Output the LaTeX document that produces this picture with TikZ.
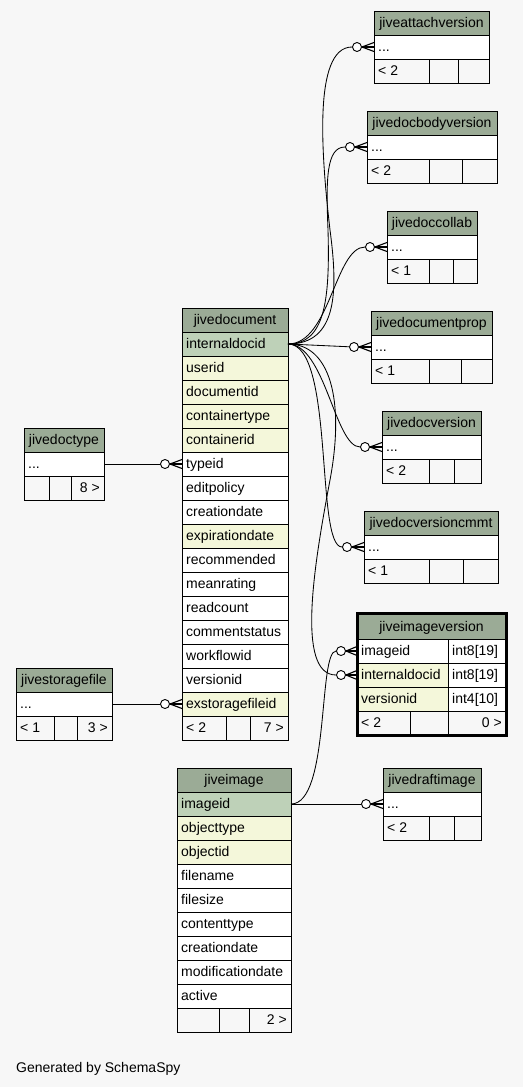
\documentclass[tikz,border=0pt]{standalone}
\usepackage{fontspec}
\setmainfont{Liberation Sans}
\usetikzlibrary{calc}
\definecolor{bgc}{HTML}{F7F7F7}
\definecolor{hdrc}{HTML}{9BAB96}
\definecolor{pkc}{HTML}{BED1B8}
\definecolor{idxc}{HTML}{F4F7DA}
\newcommand{\tfont}{\fontsize{14}{16}\selectfont}
\tikzset{
  cellbox/.style={draw=black, line width=0.9pt, anchor=north west, inner sep=0pt, outer sep=0pt, minimum height=24},
  lbl/.style={inner sep=0pt, font=\tfont, text=black},
  conn/.style={draw=black, line width=0.85pt},
  crowline/.style={draw=black, line width=1.1pt},
  ring/.style={circle, draw=black, fill=white, line width=0.9pt, minimum size=9, inner sep=0pt},
}
% left-aligned cell
\newcommand{\cL}[6]{\node[cellbox,fill=#5,minimum width=#4] (#1) at (#2,#3) {};\node[lbl,anchor=base west] (#1-t) at (#2+4,#3+16.8) {#6};}
% right-aligned cell
\newcommand{\cR}[6]{\node[cellbox,fill=#5,minimum width=#4] (#1) at (#2,#3) {};\node[lbl,anchor=base east] (#1-t) at (#2+#4-4,#3+16.8) {#6};}
% centred cell
\newcommand{\cC}[6]{\node[cellbox,fill=#5,minimum width=#4] (#1) at (#2,#3) {};\node[lbl,anchor=base] (#1-t) at (#2+#4/2,#3+16.8) {#6};}
% empty cell
\newcommand{\cE}[5]{\node[cellbox,fill=#5,minimum width=#4] (#1) at (#2,#3) {};}
% small table: name, x, y, width, title, div1 x, div2 x, footer-left text
\newcommand{\smalltab}[8]{%
  \cC{#1-h}{#2}{#3}{#4}{hdrc}{#5}
  \cL{#1-row}{#2}{#3+24}{#4}{white}{...}
  \cL{#1-f1}{#2}{#3+48}{#6-#2}{bgc}{#8}
  \cE{#1-f2}{#6}{#3+48}{#7-#6}{bgc}
  \cE{#1-f3}{#7}{#3+48}{#2+#4-#7}{bgc}
}
\newcommand{\crowat}[2]{%
  \draw[crowline] (#1.east) -- ($(#2.west)+(0,-4.5)$);
  \draw[crowline] (#1.east) -- (#2.west);
  \draw[crowline] (#1.east) -- ($(#2.west)+(0,4.5)$);
}
\begin{document}
\begin{tikzpicture}[x=1pt,y=-1pt]
\useasboundingbox (0,0) rectangle (523,1087);
\fill[bgc] (0,0) rectangle (523,1087);

% ---------------- jivedocument
\cC{doc-h}{182}{308}{106}{hdrc}{jivedocument}
\cL{doc-internaldocid}{182}{332}{106}{pkc}{internaldocid}
\cL{doc-userid}{182}{356}{106}{idxc}{userid}
\cL{doc-documentid}{182}{380}{106}{idxc}{documentid}
\cL{doc-containertype}{182}{404}{106}{idxc}{containertype}
\cL{doc-containerid}{182}{428}{106}{idxc}{containerid}
\cL{doc-typeid}{182}{452}{106}{white}{typeid}
\cL{doc-editpolicy}{182}{476}{106}{white}{editpolicy}
\cL{doc-creationdate}{182}{500}{106}{white}{creationdate}
\cL{doc-expirationdate}{182}{524}{106}{idxc}{expirationdate}
\cL{doc-recommended}{182}{548}{106}{white}{recommended}
\cL{doc-meanrating}{182}{572}{106}{white}{meanrating}
\cL{doc-readcount}{182}{596}{106}{white}{readcount}
\cL{doc-commentstatus}{182}{620}{106}{white}{commentstatus}
\cL{doc-workflowid}{182}{644}{106}{white}{workflowid}
\cL{doc-versionid}{182}{668}{106}{white}{versionid}
\cL{doc-exstoragefileid}{182}{692}{106}{idxc}{exstoragefileid}
\cL{doc-f1}{182}{716}{44}{bgc}{< 2}
\cE{doc-f2}{226}{716}{24}{bgc}
\cR{doc-f3}{250}{716}{38}{bgc}{7 >}

% ---------------- jiveimage
\cC{img-h}{177}{768}{114}{hdrc}{jiveimage}
\cL{img-imageid}{177}{792}{114}{pkc}{imageid}
\cL{img-objecttype}{177}{816}{114}{idxc}{objecttype}
\cL{img-objectid}{177}{840}{114}{idxc}{objectid}
\cL{img-filename}{177}{864}{114}{white}{filename}
\cL{img-filesize}{177}{888}{114}{white}{filesize}
\cL{img-contenttype}{177}{912}{114}{white}{contenttype}
\cL{img-creationdate}{177}{936}{114}{white}{creationdate}
\cL{img-modificationdate}{177}{960}{114}{white}{modificationdate}
\cL{img-active}{177}{984}{114}{white}{active}
\cE{img-f1}{177}{1008}{42}{bgc}
\cE{img-f2}{219}{1008}{30}{bgc}
\cR{img-f3}{249}{1008}{42}{bgc}{2 >}

% ---------------- jivedoctype
\cC{doctype-h}{24}{428}{80}{hdrc}{jivedoctype}
\cL{doctype-row}{24}{452}{80}{white}{...}
\cE{doctype-f1}{24}{476}{25}{bgc}
\cE{doctype-f2}{49}{476}{22}{bgc}
\cR{doctype-f3}{71}{476}{33}{bgc}{8 >}

% ---------------- jivestoragefile
\cC{storage-h}{16}{668}{96}{hdrc}{jivestoragefile}
\cL{storage-row}{16}{692}{96}{white}{...}
\cL{storage-f1}{16}{716}{38}{bgc}{< 1}
\cE{storage-f2}{54}{716}{23}{bgc}
\cR{storage-f3}{77}{716}{35}{bgc}{3 >}

% ---------------- right-hand tables
\smalltab{attach}{374}{11}{115}{jiveattachversion}{429}{458}{< 2}
\smalltab{bodyver}{367}{111}{130}{jivedocbodyversion}{429}{462}{< 2}
\smalltab{collab}{387}{211}{90}{jivedoccollab}{429}{453}{< 1}
\smalltab{docprop}{371}{311}{121}{jivedocumentprop}{429}{461}{< 1}
\smalltab{docver}{382}{411}{99}{jivedocversion}{429}{454}{< 2}
\smalltab{cmmt}{364}{511}{134}{jivedocversioncmmt}{429}{463}{< 1}
\smalltab{draft}{383}{768}{98}{jivedraftimage}{429}{454}{< 2}

% ---------------- jiveimageversion
\node[cellbox,fill=hdrc,minimum width=149,minimum height=26] (iv-h) at (357,613) {};
\node[lbl,anchor=base] (iv-h-t) at (431.5,631) {jiveimageversion};
\cL{iv-imageid}{357}{639}{91}{white}{imageid}
\cL{iv-imageid-type}{448}{639}{58}{white}{int8[19]}
\cL{iv-internaldocid}{357}{663}{91}{idxc}{internaldocid}
\cL{iv-internaldocid-type}{448}{663}{58}{white}{int8[19]}
\cL{iv-versionid}{357}{687}{91}{idxc}{versionid}
\cL{iv-versionid-type}{448}{687}{58}{white}{int4[10]}
\cL{iv-f1}{357}{711}{53}{bgc}{< 2}
\cE{iv-f2}{410}{711}{38}{bgc}
\cR{iv-f3}{448}{711}{58}{bgc}{0 >}
\draw[line width=3pt] (iv-h.north west) rectangle (iv-f3.south east);

% ---------------- rings
\node[ring] (o-attach) at ($(attach-row.west)+(-17,0)$) {};
\node[ring] (o-bodyver) at ($(bodyver-row.west)+(-17,0)$) {};
\node[ring] (o-collab) at ($(collab-row.west)+(-17,0)$) {};
\node[ring] (o-docprop) at ($(docprop-row.west)+(-17,0)$) {};
\node[ring] (o-docver) at ($(docver-row.west)+(-17,0)$) {};
\node[ring] (o-cmmt) at ($(cmmt-row.west)+(-17,0)$) {};
\node[ring] (o-draft) at ($(draft-row.west)+(-17,0)$) {};
\node[ring] (o-ivimg) at ($(iv-imageid.west)+(-16,0)$) {};
\node[ring] (o-ivdoc) at ($(iv-internaldocid.west)+(-16,0)$) {};
\node[ring] (o-doctype) at ($(doc-typeid.west)+(-17,0)$) {};
\node[ring] (o-storage) at ($(doc-exstoragefileid.west)+(-17,0)$) {};

% ---------------- connectors
\draw[conn] (doc-internaldocid.east) .. controls (338,344) and (338,290) .. (330,230) .. controls (322,160) and (312,47) .. (o-attach);
\draw[conn] (doc-internaldocid.east) .. controls (325,344) and (330,300) .. (328,230) .. controls (326,180) and (326,147) .. (o-bodyver);
\draw[conn] (doc-internaldocid.east) .. controls (330,344) and (335,247) .. (o-collab);
\draw[conn] (doc-internaldocid.east) -- (o-docprop);
\draw[conn] (doc-internaldocid.east) .. controls (325,344) and (335,447) .. (o-docver);
\draw[conn] (doc-internaldocid.east) .. controls (335,344) and (315,547) .. (o-cmmt);
\draw[conn] (doc-internaldocid.east) .. controls (330,344) and (345,400) .. (330,480) .. controls (315,560) and (295,675) .. (o-ivdoc);
\draw[conn] (img-imageid.east) .. controls (330,804) and (318,651) .. (o-ivimg);
\draw[conn] (img-imageid.east) -- (o-draft);
\draw[conn] (doctype-row.east) -- (o-doctype);
\draw[conn] (storage-row.east) -- (o-storage);

% ---------------- crow's feet
\crowat{o-attach}{attach-row}
\crowat{o-bodyver}{bodyver-row}
\crowat{o-collab}{collab-row}
\crowat{o-docprop}{docprop-row}
\crowat{o-docver}{docver-row}
\crowat{o-cmmt}{cmmt-row}
\crowat{o-draft}{draft-row}
\crowat{o-ivimg}{iv-imageid}
\crowat{o-ivdoc}{iv-internaldocid}
\crowat{o-doctype}{doc-typeid}
\crowat{o-storage}{doc-exstoragefileid}

\node[lbl,anchor=base west] (gen) at (16,1072) {Generated by SchemaSpy};
\end{tikzpicture}
\end{document}
